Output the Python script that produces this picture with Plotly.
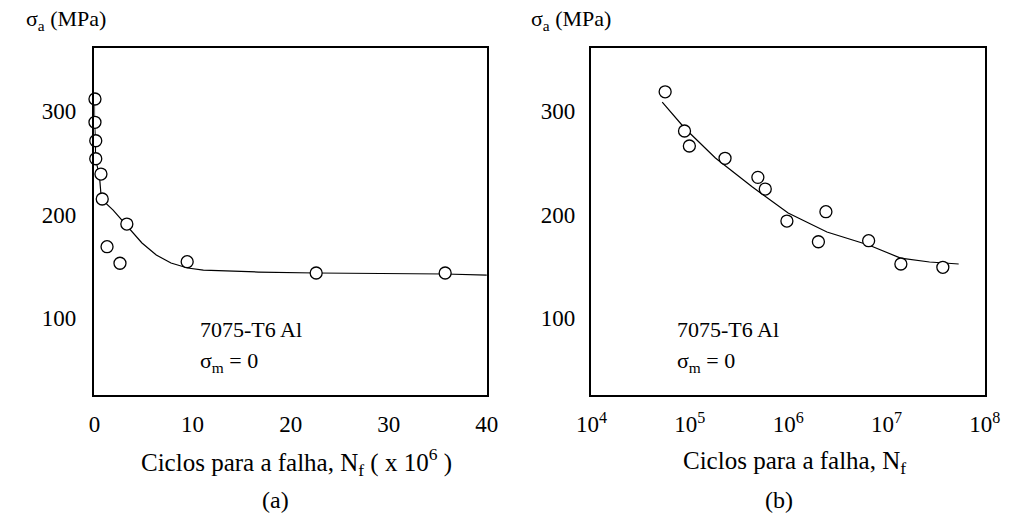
import plotly.graph_objects as go

# ---- data: panel (a) linear N (x 10^6) ----
a_pts_N = [0.05, 0.05, 0.13, 0.13, 0.66, 0.79, 3.3, 1.28, 2.6, 9.45, 22.6, 35.75]
a_pts_S = [311.6, 289.1, 271.3, 253.9, 239.1, 215.0, 190.8, 168.9, 152.9, 154.4, 143.5, 143.5]
a_fit_N = [0.0, 0.0, 0.1, 0.1, 0.5, 0.7, 1.9, 3.36, 4.84, 6.3, 7.8, 9.5, 11.1, 16.7, 22.6, 35.75, 40.0]
a_fit_S = [311.6, 289.4, 271.0, 253.6, 238.2, 215.0, 204.3, 188.9, 172.5, 160.9, 153.1, 148.3, 146.3, 144.4, 143.5, 142.5, 141.5]

# ---- data: panel (b) log N ----
b_pts_N = [5.61e4, 8.83e4, 9.89e4, 2.28e5, 4.92e5, 5.85e5, 9.71e5, 2.42e6, 2.03e6, 6.58e6, 1.40e7, 3.74e7]
b_pts_S = [318.6, 280.7, 266.2, 254.3, 235.9, 224.6, 193.7, 202.7, 173.7, 174.7, 152.2, 149.0]
b_fit_N = [5.24e4, 8.83e4, 1.82e5, 4.33e5, 1.0e6, 2.48e6, 6.58e6, 1.39e7, 2.74e7, 5.42e7]
b_fit_S = [308.7, 283.6, 254.6, 226.6, 201.4, 183.1, 170.5, 157.9, 154.1, 152.2]

y_ticks = [100, 200, 300]
a_x_ticks = [0, 10, 20, 30, 40]
b_x_ticks = [1e4, 1e5, 1e6, 1e7, 1e8]
b_x_ticktext = ["10<sup>4</sup>", "10<sup>5</sup>", "10<sup>6</sup>", "10<sup>7</sup>", "10<sup>8</sup>"]

W, H = 1027, 518
FONT = "Liberation Serif"

def px_x(p):
    return p / W

def px_y(p):
    return 1 - p / H

fig = go.Figure()

line_style = dict(color="black", width=1.2)
marker_style = dict(symbol="circle", size=12, color="white", line=dict(color="black", width=1.3))

fig.add_trace(go.Scatter(x=a_fit_N, y=a_fit_S, mode="lines", line=line_style, xaxis="x", yaxis="y", showlegend=False))
fig.add_trace(go.Scatter(x=a_pts_N, y=a_pts_S, mode="markers", marker=marker_style, xaxis="x", yaxis="y", showlegend=False, cliponaxis=False))
fig.add_trace(go.Scatter(x=b_fit_N, y=b_fit_S, mode="lines", line=line_style, xaxis="x2", yaxis="y2", showlegend=False))
fig.add_trace(go.Scatter(x=b_pts_N, y=b_pts_S, mode="markers", marker=marker_style, xaxis="x2", yaxis="y2", showlegend=False, cliponaxis=False))

yr = [25.6, 360.9]
ax_common = dict(showline=True, linecolor="black", linewidth=1.5, mirror=True, showgrid=False,
                 zeroline=False, ticks="", tickfont=dict(family=FONT, size=23, color="black"))

fig.update_layout(
    width=W, height=H,
    margin=dict(l=0, r=0, t=0, b=0),
    paper_bgcolor="white", plot_bgcolor="white",
    font=dict(family=FONT, color="black"),
    xaxis=dict(domain=[px_x(81), px_x(486)], range=[0, 40], tickvals=a_x_ticks, anchor="y",
               ticklabelstandoff=8, **ax_common),
    yaxis=dict(domain=[px_y(395), px_y(48)], range=yr, tickvals=y_ticks, anchor="x",
               ticklabelstandoff=12, **ax_common),
    xaxis2=dict(domain=[px_x(594), px_x(1000)], type="log", range=[4, 8], tickvals=b_x_ticks,
                ticktext=b_x_ticktext, anchor="y2", ticklabelstandoff=8, **ax_common),
    yaxis2=dict(domain=[px_y(395), px_y(48)], range=yr, tickvals=y_ticks, anchor="x2",
                ticklabelstandoff=10, **ax_common),
)

def ann(text, x, y, size=20, xanchor="left"):
    fig.add_annotation(text=text, x=px_x(x), y=px_y(y), xref="paper", yref="paper",
                       showarrow=False, xanchor=xanchor, yanchor="middle",
                       font=dict(family=FONT, size=size, color="black"))

ann("σ<sub>a</sub> (MPa)", 8, 20, size=22)
ann("σ<sub>a</sub> (MPa)", 530, 20, size=22)
ann("7075-T6 Al", 188, 329, size=22)
ann("σ<sub>m</sub> = 0", 188, 362, size=22)
ann("7075-T6 Al", 680, 329, size=22)
ann("σ<sub>m</sub> = 0", 680, 362, size=22)
ann("Ciclos para a falha, N<sub>f</sub> ( x 10<sup>6</sup> )", 290, 462, size=25, xanchor="center")
ann("(a)", 268, 500, size=24, xanchor="center")
ann("Ciclos para a falha, N<sub>f</sub>", 804, 462, size=25, xanchor="center")
ann("(b)", 788, 500, size=24, xanchor="center")

fig.write_html("out.html", config={"displayModeBar": False},
               post_script="document.body.style.margin='0';document.body.style.overflow='hidden';")
